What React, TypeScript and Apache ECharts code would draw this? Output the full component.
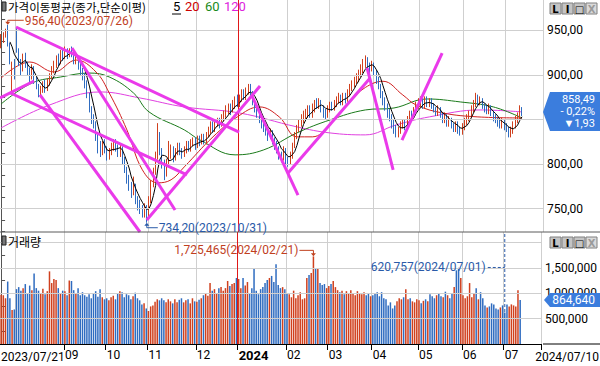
import React, { useEffect, useRef } from 'react';
import * as echarts from 'echarts';

// ---------- calendar (KRX trading days) ----------
const FIRST_DAY = '2023/07/21';
const LAST_DAY = '2024/07/10';
const HOLIDAYS = ['2023/08/15', '2023/09/28', '2023/09/29', '2023/10/02', '2023/10/03', '2023/10/09', '2023/12/25', '2023/12/29',
  '2024/01/01', '2024/02/09', '2024/02/12', '2024/03/01', '2024/04/10', '2024/05/01', '2024/05/06', '2024/05/15', '2024/06/06'];

// ---------- daily prices ----------
const OPEN = [
  932, 940, 945, 948, 934, 888, 910, 945, 926, 915,
  906, 920, 912, 904, 898, 908, 895, 888, 880, 884,
  890, 884, 892, 898, 906, 912, 918, 915, 924, 920,
  928, 922, 927, 924, 916, 920, 910, 906, 900, 892,
  878, 862, 850, 845, 832, 820, 814, 822, 816, 808,
  814, 820, 824, 818, 812, 818, 806, 794, 784, 776,
  768, 774, 760, 756, 750, 746, 750, 744, 760, 778,
  792, 810, 832, 815, 800, 790, 802, 812, 818, 808,
  814, 820, 814, 812, 816, 822, 818, 824, 826, 820,
  828, 824, 830, 826, 833, 838, 844, 840, 846, 848,
  844, 852, 856, 860, 864, 860, 867, 872, 868, 875,
  880, 876, 882, 886, 880, 870, 862, 858, 852, 846,
  842, 838, 832, 836, 828, 822, 818, 810, 808, 816,
  806, 802, 810, 820, 832, 840, 846, 850, 854, 858,
  862, 856, 864, 868, 866, 870, 864, 858, 855, 862,
  866, 864, 868, 872, 875, 870, 876, 873, 880, 886,
  890, 894, 896, 902, 906, 912, 916, 910, 908, 912,
  904, 896, 888, 880, 872, 866, 858, 854, 846, 840,
  836, 838, 844, 846, 842, 850, 856, 852, 860, 866,
  868, 870, 866, 872, 868, 870, 866, 862, 858, 862,
  856, 850, 854, 846, 850, 844, 840, 845, 838, 836,
  842, 848, 852, 856, 862, 868, 874, 870, 872, 866,
  862, 860, 864, 858, 852, 850, 846, 844, 848, 842,
  840, 834, 838, 844, 850, 853, 861,
];
const CLOSE = [
  940, 944, 948, 936, 918, 912, 902, 928, 915, 908,
  920, 912, 905, 898, 908, 895, 888, 880, 884, 890,
  885, 892, 898, 906, 912, 918, 914, 924, 920, 928,
  922, 927, 924, 916, 920, 910, 906, 900, 892, 878,
  862, 850, 845, 832, 820, 814, 822, 816, 808, 814,
  820, 824, 818, 812, 818, 806, 794, 784, 776, 768,
  774, 760, 756, 750, 746, 752, 742, 760, 778, 792,
  808, 835, 815, 800, 790, 802, 812, 818, 808, 814,
  820, 814, 812, 816, 822, 818, 824, 826, 820, 828,
  824, 830, 826, 833, 838, 844, 840, 846, 848, 844,
  852, 856, 860, 864, 860, 867, 872, 868, 875, 880,
  876, 882, 886, 880, 870, 862, 858, 852, 846, 842,
  838, 832, 836, 828, 822, 818, 810, 808, 816, 806,
  802, 810, 820, 832, 840, 846, 850, 854, 858, 862,
  856, 864, 868, 866, 870, 864, 858, 855, 862, 866,
  864, 868, 872, 875, 870, 876, 873, 880, 886, 890,
  894, 896, 902, 906, 912, 916, 910, 908, 912, 904,
  896, 888, 880, 872, 866, 858, 854, 846, 840, 836,
  838, 844, 846, 842, 850, 856, 852, 860, 866, 868,
  870, 866, 872, 868, 870, 866, 862, 858, 862, 856,
  850, 854, 846, 850, 844, 840, 845, 838, 836, 842,
  848, 852, 856, 862, 868, 874, 870, 872, 866, 862,
  860, 864, 858, 852, 850, 846, 844, 848, 842, 840,
  834, 838, 844, 850, 853, 860.42, 858.49,
];
const HIGH = [
  946, 948, 952, 956.4, 936, 915, 918, 953, 930, 918,
  924, 925, 915, 908, 912, 910, 898, 890, 888, 893,
  895, 896, 902, 910, 916, 922, 924, 928, 930, 932,
  930, 930, 932, 926, 923, 922, 914, 908, 902, 894,
  880, 865, 856, 848, 836, 826, 826, 828, 820, 818,
  824, 828, 828, 822, 822, 820, 808, 797, 788, 780,
  786, 778, 764, 760, 754, 756, 754, 764, 782, 796,
  814, 846, 836, 818, 805, 806, 826, 822, 820, 818,
  824, 824, 818, 820, 826, 826, 828, 830, 830, 832,
  832, 834, 834, 836, 842, 848, 848, 850, 852, 852,
  856, 860, 866, 868, 868, 872, 876, 878, 878, 884,
  884, 886, 890, 890, 882, 872, 866, 862, 856, 850,
  846, 842, 840, 838, 830, 826, 820, 814, 820, 818,
  808, 814, 824, 836, 844, 850, 856, 860, 862, 866,
  866, 868, 872, 874, 874, 872, 866, 862, 866, 870,
  870, 872, 876, 880, 878, 880, 880, 884, 890, 894,
  898, 902, 906, 912, 918, 922, 920, 914, 916, 914,
  906, 898, 890, 882, 875, 868, 862, 856, 850, 844,
  842, 848, 850, 850, 854, 860, 860, 864, 870, 874,
  876, 874, 876, 876, 874, 874, 868, 864, 866, 864,
  858, 858, 856, 854, 852, 846, 848, 848, 842, 846,
  852, 856, 860, 866, 872, 880, 878, 876, 874, 868,
  866, 868, 866, 860, 856, 852, 850, 852, 850, 846,
  842, 842, 848, 854, 858, 866, 864,
];
const LOW = [
  930, 936, 942, 932, 912, 882, 895, 925, 910, 900,
  904, 908, 900, 892, 895, 890, 884, 875, 876, 880,
  880, 882, 888, 895, 902, 908, 910, 912, 916, 918,
  918, 920, 920, 912, 912, 906, 900, 894, 885, 874,
  858, 845, 840, 826, 812, 808, 810, 812, 804, 805,
  810, 815, 814, 808, 808, 800, 790, 778, 770, 762,
  765, 755, 748, 744, 740, 740, 734.2, 740, 756, 774,
  788, 805, 810, 795, 782, 786, 798, 806, 802, 804,
  810, 810, 806, 808, 812, 814, 814, 820, 816, 818,
  820, 822, 822, 822, 830, 834, 836, 836, 842, 840,
  842, 848, 852, 856, 855, 858, 862, 864, 864, 870,
  872, 872, 878, 876, 866, 858, 852, 846, 840, 836,
  832, 826, 828, 822, 816, 812, 805, 802, 804, 800,
  797, 800, 806, 818, 828, 836, 842, 846, 850, 852,
  852, 852, 858, 862, 862, 858, 852, 850, 852, 858,
  860, 860, 864, 868, 866, 866, 868, 870, 876, 882,
  886, 890, 892, 898, 902, 908, 906, 902, 904, 900,
  890, 884, 874, 866, 860, 852, 848, 840, 834, 830,
  830, 834, 840, 838, 840, 846, 848, 850, 856, 862,
  864, 862, 862, 864, 864, 862, 858, 854, 854, 852,
  846, 846, 842, 842, 840, 836, 836, 834, 832, 833,
  838, 844, 848, 852, 858, 864, 866, 866, 862, 858,
  856, 856, 854, 848, 846, 842, 840, 840, 838, 836,
  830, 830, 834, 840, 846, 850, 854,
];
// volume, thousand shares
const VOLUME_K = [
  970, 960, 900, 1230, 900, 670, 680,
  1080, 1120, 1050, 1100, 1180, 1000, 1150, 1060, 1390,
  1100, 1050, 1000, 1090, 980, 1040, 1430,
  1200, 1280, 1260, 1100, 1000, 1050, 1040, 960,
  1250, 1240, 1060, 1000, 1100, 960,
  1020, 960, 930, 980, 900, 1000, 1040, 930, 1080, 920, 880,
  900, 860, 920, 950, 880,
  1000, 1040, 1020, 920, 980, 960, 880, 940, 1010, 900, 860,
  780, 800, 700, 650, 740, 760,
  830, 880, 860, 900, 860, 820, 880, 840, 800, 880, 820, 870, 900, 820, 860, 880, 800, 900, 840, 830, 870,
  900, 960, 1000, 950, 1200, 1050, 1080, 1000,
  1100, 1120, 1050, 1100, 1240, 1140, 1180, 1200, 1300,
  1280, 1100, 1300, 1150, 1220, 1000, 1100, 1490, 1050, 980, 1080, 1120, 1200,
  1260, 1300, 1340, 1220, 1570, 1160,
  1100, 1120, 1080, 1000, 980, 920, 1050, 900, 960, 1020, 880, 900, 1300,
  1360, 1400, 1725.465, 1480, 1480, 1200,
  1160, 1180, 1100, 1140, 1180, 1240, 1120, 1060,
  1020, 1050, 980, 1040, 1000, 1060, 1000, 960, 1040, 1000, 980, 1020, 960, 1000, 940,
  960, 1000, 1020, 940, 1020, 900, 880, 760, 820, 700, 760,
  840, 900, 880, 920, 1080, 880, 900, 840, 820, 880, 860, 800, 850, 880, 840,
  980, 940, 900, 960, 1000, 940, 920, 1030, 960, 900, 1000, 1120, 1450, 1500, 1300,
  960, 900, 940, 1200, 920, 1000, 1100, 880, 1020, 900, 760,
  720, 740, 800, 780, 700, 680, 720, 760,
  620.757,
  780, 740, 780, 760, 740, 1060, 864.64,
];

// moving averages: [trading-day index, value]
const MA20_PTS = [[0, 896.6], [13, 914.6], [24, 903.4], [34, 916.8], [43, 903.4], [49, 879.8], [57, 838.4], [64, 793.6], [71, 779.0], [77, 782.4], [83, 796.9], [96, 830.6], [107, 853.0], [117, 864.2], [126, 853.0], [134, 830.6], [141, 830.6], [149, 844.0], [158, 870.0], [165, 886.0], [173, 893.0], [182, 877.6], [188, 866.4], [200, 857.4], [216, 853.0], [236, 851.8]];
const MA60_PTS = [[0, 867.5], [14, 891.0], [27, 897.8], [40, 902.2], [49, 897.8], [60, 879.8], [67, 858.6], [83, 838.4], [90, 827.2], [106, 810.4], [119, 816.0], [134, 835.0], [149, 849.6], [165, 860.8], [178, 863.0], [193, 873.1], [208, 869.8], [223, 864.2], [236, 851.8]];
const MA120_PTS = [[0, 840.6], [22, 866.4], [45, 881.0], [63, 874.2], [83, 864.2], [108, 857.4], [134, 841.8], [149, 835.0], [165, 832.8], [179, 844.0], [194, 853.0], [217, 860.8], [236, 858.6]];

// user-drawn trend lines: [[index, price], [index, price]]
const TREND_LINES = [
  [[6.75, 953.9], [107.8, 836.0]],
  [[-0.5, 874.2], [14.9, 893.3]],
  [[4.0, 880.1], [84.2, 787.8]],
  [[17.6, 877.6], [62.9, 723.8]],
  [[32.1, 930.3], [78.8, 748.5]],
  [[66.0, 737.3], [117.3, 887.7]],
  [[113.7, 876.4], [134.5, 765.3]],
  [[130.0, 790.0], [167.2, 896.6]],
  [[165.8, 907.9], [177.6, 793.4]],
  [[181.6, 827.0], [199.8, 924.7]],
];

const PRICE_LABELS = [750, 800, 900, 950];
const PRICE_GRID = [750, 800, 850, 900, 950];
const VOL_LABELS = [500000, 1000000, 1500000];
const VOL_GRID = [500000, 1000000, 1500000, 2000000];

// ---------- derived ----------
function buildDates(): string[] {
  const hol = new Set(HOLIDAYS);
  const [fy, fm, fd] = FIRST_DAY.split('/').map(Number);
  const [ly, lm, ld] = LAST_DAY.split('/').map(Number);
  const d = new Date(Date.UTC(fy, fm - 1, fd));
  const end = Date.UTC(ly, lm - 1, ld);
  const out: string[] = [];
  while (d.getTime() <= end) {
    const wd = d.getUTCDay();
    const s = `${d.getUTCFullYear()}/${String(d.getUTCMonth() + 1).padStart(2, '0')}/${String(d.getUTCDate()).padStart(2, '0')}`;
    if (wd !== 0 && wd !== 6 && !hol.has(s)) out.push(s);
    d.setUTCDate(d.getUTCDate() + 1);
  }
  return out;
}
const DATES = buildDates();
const N = DATES.length;
const PAD = 9;
const NC = N + PAD;
const CATS = [...DATES, ...Array.from({ length: PAD }, (_, i) => `pad${i}`)];
const MONTH_STARTS = new Set<number>();
for (let i = 1; i < N; i++) if (DATES[i].slice(5, 7) !== DATES[i - 1].slice(5, 7)) MONTH_STARTS.add(i);
const FIRST_MONTH_START = Math.min(...Array.from(MONTH_STARTS));
const YEAR_START = DATES.findIndex((d) => d.startsWith('2024'));

const RED = '#d0401e';
const BLUE = '#2f6cc0';
const GRIDC = '#cfcfcf';
const MAG = '#ea3aea';
const AXISC = '#555555';
const VOL_MAX = 2205000;
const P_MIN = 723.8;
const P_MAX = 984.2;

const fmtPrice = (v: number) => v.toFixed(2).replace('.', ',');
const fmtInt = (v: number) => String(Math.round(v)).replace(/\B(?=(\d{3})+(?!\d))/g, ',');

function ma(period: number) {
  return CLOSE.map((_, i) => (i < period - 1 ? null : +(CLOSE.slice(i - period + 1, i + 1).reduce((a, b) => a + b, 0) / period).toFixed(2)));
}

function buildOption() {
  const priceTicks: number[] = [];
  for (let v = 725; v <= 975; v += 12.5) priceTicks.push(v);
  const volTicks: number[] = [];
  for (let v = 250000; v <= 2000000; v += 250000) volTicks.push(v);

  const splitLine = { show: true, interval: (i: number) => MONTH_STARTS.has(i), lineStyle: { color: GRIDC, width: 1 } };
  const hiddenVal = (grid: number) => ({ type: 'value', gridIndex: grid, min: -0.5, max: NC - 0.5, show: false, splitLine: { show: false } });
  const volumes = VOLUME_K.map((v, i) => ({ value: v * 1000, itemStyle: { color: CLOSE[i] >= OPEN[i] ? RED : BLUE } }));

  return {
    animation: false,
    backgroundColor: '#ffffff',
    textStyle: { fontFamily: 'Roboto' },
    grid: [
      { left: 0, right: 57, top: 0, height: 232 },
      { left: 0, right: 57, top: 232, height: 112 },
    ],
    xAxis: [
      { type: 'category', gridIndex: 0, data: CATS, boundaryGap: true, axisLine: { show: false }, axisTick: { show: false }, axisLabel: { show: false }, splitLine },
      hiddenVal(0),
      {
        type: 'category', gridIndex: 1, data: CATS, boundaryGap: true,
        axisLine: { show: true, lineStyle: { color: '#000', width: 1 } },
        axisTick: { show: true, length: 6, interval: (i: number) => MONTH_STARTS.has(i) && i !== FIRST_MONTH_START, lineStyle: { color: '#000' } },
        axisLabel: {
          show: true, align: 'left', margin: 5, color: '#000', fontSize: 12, fontFamily: 'Roboto',
          interval: (i: number) => MONTH_STARTS.has(i) && i !== FIRST_MONTH_START,
          formatter: (value: string, index: number) => {
            if (index >= N || !MONTH_STARTS.has(index)) return '';
            const [y, m] = value.split('/');
            return m === '01' ? `{b|${y}}` : m;
          },
          rich: { b: { fontWeight: 'bold', fontSize: 13, fontFamily: 'Roboto', color: '#000' } },
        },
        splitLine,
      },
      hiddenVal(1),
    ],
    yAxis: [
      {
        type: 'value', gridIndex: 0, position: 'right', min: P_MIN, max: P_MAX, scale: true,
        axisLine: { show: true, lineStyle: { color: AXISC } },
        axisTick: { show: true, length: 4, customValues: priceTicks, lineStyle: { color: AXISC } },
        axisLabel: { show: true, customValues: PRICE_LABELS, margin: 4, color: '#000', fontSize: 12, fontFamily: 'Roboto', formatter: (v: number) => fmtPrice(v) },
        splitLine: { show: false },
      },
      {
        type: 'value', gridIndex: 1, position: 'right', min: 0, max: VOL_MAX,
        axisLine: { show: true, lineStyle: { color: AXISC } },
        axisTick: { show: true, length: 4, customValues: volTicks, lineStyle: { color: AXISC } },
        axisLabel: { show: true, customValues: VOL_LABELS, margin: 4, color: '#000', fontSize: 12, fontFamily: 'Roboto', formatter: (v: number) => fmtInt(v) },
        splitLine: { show: false },
      },
    ],
    series: [
      {
        type: 'line', xAxisIndex: 1, yAxisIndex: 0, data: [[0, 850]], symbol: 'none', lineStyle: { opacity: 0 }, z: 1, silent: true,
        markLine: {
          silent: true, symbol: 'none', label: { show: false }, animation: false,
          lineStyle: { color: GRIDC, type: 'solid', width: 1 },
          data: [
            ...PRICE_GRID.map((v) => ({ yAxis: v })),
            { xAxis: YEAR_START - 0.5, lineStyle: { color: '#e01818', type: 'solid', width: 1 } },
          ],
        },
      },
      {
        type: 'line', xAxisIndex: 3, yAxisIndex: 1, data: [[0, 0]], symbol: 'none', lineStyle: { opacity: 0 }, z: 1, silent: true,
        markLine: {
          silent: true, symbol: 'none', label: { show: false }, animation: false,
          lineStyle: { color: GRIDC, type: 'solid', width: 1 },
          data: [
            ...VOL_GRID.map((v) => ({ yAxis: v })),
            { xAxis: YEAR_START - 0.5, lineStyle: { color: '#e01818', type: 'solid', width: 1 } },
          ],
        },
      },
      { name: 'MA120', type: 'line', xAxisIndex: 1, yAxisIndex: 0, data: MA120_PTS, smooth: 0.4, symbol: 'none', lineStyle: { color: '#e040e0', width: 1 }, z: 2, silent: true },
      { name: 'MA60', type: 'line', xAxisIndex: 1, yAxisIndex: 0, data: MA60_PTS, smooth: 0.4, symbol: 'none', lineStyle: { color: '#1a7a1a', width: 1 }, z: 2, silent: true },
      { name: 'MA20', type: 'line', xAxisIndex: 1, yAxisIndex: 0, data: MA20_PTS, smooth: 0.4, symbol: 'none', lineStyle: { color: '#d02020', width: 1 }, z: 2, silent: true },
      {
        type: 'candlestick', xAxisIndex: 0, yAxisIndex: 0, barWidth: 1, z: 3, silent: true,
        data: DATES.map((_, i) => [OPEN[i], CLOSE[i], LOW[i], HIGH[i]]),
        itemStyle: { color: RED, color0: BLUE, borderColor: RED, borderColor0: BLUE, borderWidth: 1 },
      },
      { name: 'MA5', type: 'line', xAxisIndex: 0, yAxisIndex: 0, data: ma(5), symbol: 'none', lineStyle: { color: '#000', width: 1 }, z: 4, silent: true },
      {
        type: 'lines', coordinateSystem: 'cartesian2d', xAxisIndex: 1, yAxisIndex: 0, z: 6, silent: true,
        data: TREND_LINES.map((c) => ({ coords: c })),
        lineStyle: { color: MAG, width: 3, opacity: 1, curveness: 0 },
      },
      { type: 'bar', xAxisIndex: 2, yAxisIndex: 1, data: volumes, barWidth: 1.5, z: 3, silent: true },
    ],
  };
}

function buildGraphics(chart: any) {
  const P = (i: number, v: number) => chart.convertToPixel({ xAxisIndex: 1, yAxisIndex: 0 }, [i, v]) as number[];
  const V = (i: number, v: number) => chart.convertToPixel({ xAxisIndex: 3, yAxisIndex: 1 }, [i, v]) as number[];
  const els: any[] = [];
  const text = (x: number, y: number, t: string, color: string, align = 'left', font = '12px Roboto', extra: any = {}) => ({
    type: 'text', x, y, z: 100, silent: true,
    style: { text: t, fill: color, font, align, verticalAlign: 'middle', textAlign: align, textVerticalAlign: 'middle', lineHeight: 12, ...extra },
  });
  const line = (x1: number, y1: number, x2: number, y2: number, color: string, dash: any = null, w = 1) => ({
    type: 'line', z: 100, silent: true, shape: { x1, y1, x2, y2 }, style: { stroke: color, lineWidth: w, lineDash: dash },
  });
  const tri = (pts: number[][], color: string) => ({ type: 'polygon', z: 100, silent: true, shape: { points: pts }, style: { fill: color } });

  const axisX = P(NC - 0.5, 850)[0];
  const CRED = '#c0401e';
  const CBLUE = '#2a5aa8';

  // separator & axis extension
  els.push(line(0, 232, 600, 232, '#5a5a5a'));
  els.push(line(axisX, 344, 600, 344, '#000'));

  // high marker
  let hi = 0; HIGH.forEach((v, i) => { if (v > HIGH[hi]) hi = i; });
  const [hx, hy] = P(hi, HIGH[hi]);
  els.push(line(hx, hy - 4.5, hx + 16, hy - 4.5, CRED));
  els.push(line(hx, hy - 4.5, hx, hy - 2, CRED));
  els.push(tri([[hx - 2.5, hy - 3], [hx + 2.5, hy - 3], [hx, hy]], CRED));
  els.push(text(hx + 17, hy - 3.5, `${fmtPrice(HIGH[hi])}(${DATES[hi]})`, CRED));

  // low marker
  let lo = 0; LOW.forEach((v, i) => { if (v < LOW[lo]) lo = i; });
  const [lx, ly] = P(lo, LOW[lo]);
  els.push(line(lx, ly + 5, lx + 11, ly + 5, CBLUE));
  els.push(line(lx, ly + 5, lx, ly + 2, CBLUE));
  els.push(tri([[lx - 2.5, ly + 3], [lx + 2.5, ly + 3], [lx, ly]], CBLUE));
  els.push(text(lx + 12, ly + 5, `${fmtPrice(LOW[lo])}(${DATES[lo]})`, CBLUE));

  // volume max marker
  let vmax = 0; VOLUME_K.forEach((v, i) => { if (v > VOLUME_K[vmax]) vmax = i; });
  const [mx, my] = V(vmax, VOLUME_K[vmax] * 1000);
  els.push(line(mx - 14, my - 6, mx, my - 6, CRED));
  els.push(line(mx, my - 6, mx, my - 2, CRED));
  els.push(tri([[mx - 2.5, my - 3], [mx + 2.5, my - 3], [mx, my]], CRED));
  els.push(text(mx - 15, my - 6, `${fmtInt(VOLUME_K[vmax] * 1000)}(${DATES[vmax]})`, CRED, 'right'));

  // volume min marker
  let vmin = 0; VOLUME_K.forEach((v, i) => { if (v < VOLUME_K[vmin]) vmin = i; });
  const [nx, ny] = V(vmin, VOLUME_K[vmin] * 1000);
  const nyT = ny - 45;
  els.push(line(nx, 234, nx, ny, CBLUE, [3, 2]));
  els.push(line(nx - 17, nyT, nx, nyT, CBLUE, [3, 2]));
  els.push(text(nx - 19, nyT, `${fmtInt(VOLUME_K[vmin] * 1000)}(${DATES[vmin]})`, CBLUE, 'right'));

  // legends
  const KR = '11.5px "Noto Sans CJK KR"';
  els.push({ type: 'rect', z: 100, silent: true, shape: { x: 2, y: 2, width: 4, height: 9 }, style: { fill: '#777', stroke: '#222', lineWidth: 1 } });
  els.push(text(8, 6.5, '가격이동평균(종가,단순이평)', '#000', 'left', KR));
  els.push(text(173, 6.5, '5', '#000', 'left', '13px Roboto'));
  els.push(line(172, 14, 181, 14, '#000'));
  els.push(text(185, 6.5, '20', '#cc0000', 'left', '13px Roboto'));
  els.push(text(205, 6.5, '60', '#1a8a1a', 'left', '13px Roboto'));
  els.push(text(224, 6.5, '120', '#dd22dd', 'left', '13px Roboto'));
  els.push({ type: 'rect', z: 100, silent: true, shape: { x: 2, y: 236, width: 4, height: 9 }, style: { fill: '#777', stroke: '#222', lineWidth: 1 } });
  els.push(text(8, 241, '거래량', '#000', 'left', '12px "Noto Sans CJK KR"'));

  // buttons
  const buttons = (y: number) => {
    const labels = ['L', 'I', '□', 'X'];
    labels.forEach((lb, k) => {
      const x = 550 + k * 12;
      els.push({ type: 'rect', z: 100, silent: true, shape: { x, y, width: 11, height: 11 }, style: { fill: k === 3 ? '#dadada' : '#c4c4c4', stroke: '#808080', lineWidth: 1 } });
      els.push(text(x + 5.5, y + 6, lb, k === 3 ? '#9a9a9a' : '#000', 'center', 'bold 10px "DejaVu Sans"'));
    });
  };
  buttons(3);
  buttons(237);

  // last price badge
  const last = N - 1;
  const [, py] = P(last, CLOSE[last]);
  const diff = CLOSE[last] - CLOSE[last - 1];
  const pct = (diff / CLOSE[last - 1]) * 100;
  const BADGE = '#3b7ddd';
  els.push({ type: 'polygon', z: 110, silent: true, shape: { points: [[axisX, py], [axisX + 7, py - 20], [600, py - 20], [600, py + 19], [axisX + 7, py + 19]] }, style: { fill: BADGE } });
  const badgeText = [
    fmtPrice(CLOSE[last]),
    `${diff < 0 ? '-' : '+'} ${fmtPrice(Math.abs(pct))}%`,
    `${diff < 0 ? '▼' : '▲'}${fmtPrice(Math.abs(diff))}`,
  ].join('\n');
  els.push({ ...text(595, py, badgeText, '#fff', 'right', '11px Roboto'), z: 111 });

  // last volume badge
  const [, vy] = V(last, VOLUME_K[last] * 1000);
  els.push({ type: 'polygon', z: 110, silent: true, shape: { points: [[axisX + 1, vy], [axisX + 7, vy - 7], [600, vy - 7], [600, vy + 7], [axisX + 7, vy + 7]] }, style: { fill: BADGE } });
  els.push({ ...text(595, vy, fmtInt(VOLUME_K[last] * 1000), '#fff', 'right'), z: 111 });

  // first and last date labels of the x axis
  els.push(text(1, 357, DATES[0], '#000', 'left'));
  els.push(text(599, 357, DATES[last], '#000', 'right'));

  return els;
}

export default function App() {
  const ref = useRef<HTMLDivElement>(null);
  useEffect(() => {
    if (!ref.current) return;
    const chart = echarts.init(ref.current, null, { renderer: 'svg' });
    chart.setOption(buildOption() as any);
    chart.setOption({ graphic: buildGraphics(chart) } as any);
    return () => chart.dispose();
  }, []);
  return <div ref={ref} style={{ position: 'absolute', left: 0, top: 0, width: 600, height: 366, background: '#fff' }} />;
}
